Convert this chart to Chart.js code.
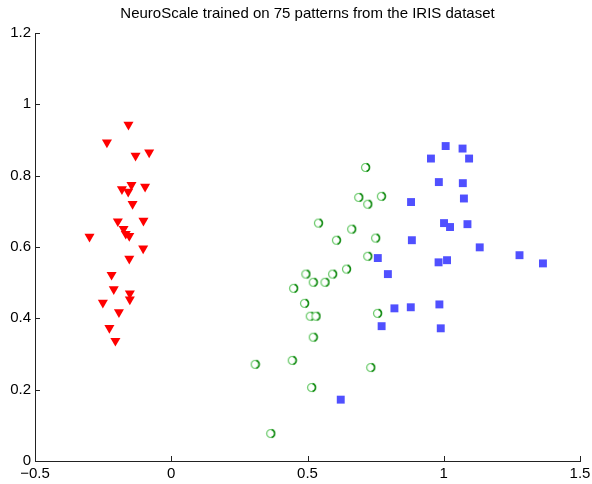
<!DOCTYPE html>
<html>
<head>
<meta charset="utf-8">
<title>NeuroScale IRIS</title>
<script src="https://cdn.jsdelivr.net/npm/chart.js@4/dist/chart.umd.min.js"></script>
<style>
  html, body { margin: 0; padding: 0; background: #fff; }
  #plot { display: block; }
</style>
</head>
<body>
<canvas id="plot" width="592" height="484"></canvas>
<script>
// projected coordinates, 25 patterns per class
const setosaX = [-0.157, -0.236, -0.131, -0.081, -0.146, -0.181, -0.158, -0.096, -0.142, -0.196,
  -0.102, -0.175, -0.167, -0.154, -0.300, -0.103, -0.154, -0.219, -0.211, -0.152,
  -0.152, -0.251, -0.192, -0.227, -0.205]
const setosaY = [0.943, 0.893, 0.856, 0.865, 0.774, 0.762, 0.755, 0.769, 0.721, 0.672,
  0.674, 0.651, 0.637, 0.631, 0.629, 0.596, 0.567, 0.522, 0.482, 0.470,
  0.453, 0.444, 0.417, 0.373, 0.337]

const versicolorX = [0.713, 0.688, 0.771, 0.721, 0.540, 0.662, 0.606, 0.750, 0.721, 0.643,
  0.494, 0.592, 0.521, 0.564, 0.449, 0.489, 0.510, 0.531, 0.757, 0.521,
  0.308, 0.444, 0.732, 0.515, 0.365]
const versicolorY = [0.823, 0.739, 0.742, 0.720, 0.667, 0.650, 0.619, 0.625, 0.574, 0.538,
  0.524, 0.524, 0.501, 0.501, 0.484, 0.442, 0.406, 0.406, 0.414, 0.347,
  0.271, 0.282, 0.262, 0.206, 0.077]

const virginicaX = [1.007, 1.069, 0.953, 1.093, 0.982, 1.070, 0.880, 1.074, 1.001, 1.023,
  1.087, 0.883, 1.132, 1.278, 1.364, 0.758, 0.981, 1.012, 0.795, 0.819,
  0.879, 0.984, 0.772, 0.989, 0.622]
const virginicaY = [0.883, 0.876, 0.848, 0.848, 0.782, 0.779, 0.726, 0.736, 0.667, 0.656,
  0.664, 0.619, 0.599, 0.577, 0.554, 0.569, 0.557, 0.563, 0.524, 0.428,
  0.431, 0.439, 0.378, 0.372, 0.172]

const xTicks = [-0.5, 0, 0.5, 1, 1.5]
const yTicks = [0, 0.2, 0.4, 0.6, 0.8, 1, 1.2]

const FONT = 'Liberation Sans, Arial, Helvetica, sans-serif'
const AXIS_COLOR = '#222'

function toPoints(xs, ys) {
  return xs.map((x, i) => ({ x: x, y: ys[i] }))
}

// open green circle, darker on the right side
function ringMarker() {
  const c = document.createElement('canvas')
  c.width = 11
  c.height = 11
  const g = c.getContext('2d')
  g.fillStyle = '#fff'
  g.beginPath(); g.arc(5.5, 5.5, 4, 0, Math.PI * 2); g.fill()
  g.lineWidth = 1.2
  g.strokeStyle = '#66c866'
  g.beginPath(); g.arc(5.5, 5.5, 4, 0, Math.PI * 2); g.stroke()
  g.lineWidth = 1.6
  g.strokeStyle = '#118a11'
  g.beginPath(); g.arc(5.5, 5.5, 4, -Math.PI / 2.4, Math.PI / 2.4); g.stroke()
  return c
}

// ticks drawn inward from the axis lines
const inwardTicks = {
  id: 'inwardTicks',
  afterDraw(chart) {
    const ctx = chart.ctx
    const area = chart.chartArea
    const xs = chart.scales.x
    const ys = chart.scales.y
    const len = 5
    ctx.save()
    ctx.strokeStyle = AXIS_COLOR
    ctx.lineWidth = 1
    ctx.beginPath()
    xTicks.forEach(v => {
      const px = Math.round(xs.getPixelForValue(v)) + 0.5
      ctx.moveTo(px, area.bottom)
      ctx.lineTo(px, area.bottom - len)
    })
    yTicks.forEach(v => {
      const py = Math.round(ys.getPixelForValue(v)) + 0.5
      ctx.moveTo(area.left, py)
      ctx.lineTo(area.left + len, py)
    })
    ctx.stroke()
    ctx.restore()
  }
}

const fmt = v => String(v).replace('-', '\u2212')

new Chart(document.getElementById('plot'), {
  type: 'scatter',
  data: {
    datasets: [
      {
        data: toPoints(setosaX, setosaY),
        pointStyle: 'triangle',
        rotation: 180,
        pointRadius: 5.8,
        backgroundColor: '#ff0000',
        borderColor: '#ff0000',
        borderWidth: 0
      },
      {
        data: toPoints(versicolorX, versicolorY),
        pointStyle: ringMarker(),
        pointRadius: 5
      },
      {
        data: toPoints(virginicaX, virginicaY),
        pointStyle: 'rect',
        pointRadius: 5.6,
        backgroundColor: '#5050ff',
        borderColor: '#5050ff',
        borderWidth: 0
      }
    ]
  },
  options: {
    responsive: false,
    animation: false,
    layout: { padding: { left: 0, right: 12, top: 0, bottom: 0 } },
    plugins: {
      legend: { display: false },
      tooltip: { enabled: false },
      title: {
        display: true,
        text: 'NeuroScale trained on 75 patterns from the IRIS dataset',
        fullSize: false,
        color: '#000',
        font: { family: FONT, size: 15, weight: 'normal' },
        padding: { top: 5, bottom: 10 }
      }
    },
    scales: {
      x: {
        type: 'linear',
        min: -0.5,
        max: 1.5,
        grid: { display: false, drawTicks: false },
        border: { display: true, color: AXIS_COLOR, width: 1 },
        afterBuildTicks: s => { s.ticks = xTicks.map(v => ({ value: v })) },
        afterFit: s => {
          s.height = 23
          // end labels may hang past the axis ends
          s.paddingLeft = 0
          s.paddingRight = 0
        },
        ticks: {
          color: '#000',
          padding: 4,
          maxRotation: 0,
          font: { family: FONT, size: 15 },
          callback: fmt
        }
      },
      y: {
        type: 'linear',
        min: 0,
        max: 1.2,
        grid: { display: false, drawTicks: false },
        border: { display: true, color: AXIS_COLOR, width: 1 },
        afterBuildTicks: s => { s.ticks = yTicks.map(v => ({ value: v })) },
        afterFit: s => {
          s.width = 35
          s.paddingTop = 0
          s.paddingBottom = 0
        },
        ticks: {
          color: '#000',
          padding: 4,
          font: { family: FONT, size: 15 },
          callback: fmt
        }
      }
    }
  },
  plugins: [inwardTicks]
})
</script>
</body>
</html>
